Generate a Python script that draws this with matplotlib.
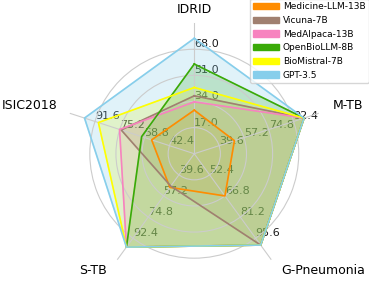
import numpy as np
import matplotlib
matplotlib.use("Agg")
import matplotlib.pyplot as plt
from matplotlib.patches import Patch

categories = ["IDRID", "M-TB", "G-Pneumonia", "S-TB", "ISIC2018"]
# per-axis scale (lo, hi)
ranges = [(0.0, 68.0), (22.0, 92.4), (38.0, 95.6), (22.0, 92.4), (26.0, 91.6)]

models = ["Medicine-LLM-13B", "Vicuna-7B", "MedAlpaca-13B",
          "OpenBioLLM-8B", "BioMistral-7B", "GPT-3.5"]
colors = ["#ff8c00", "#a08070", "#f783bf", "#3aaa08", "#ffff00", "#87ceeb"]

medicine_llm = [20.5, 42.3, 60.2, 41.9, 46.6]
vicuna = [30.0, 92.4, 94.2, 40.8, 67.0]
medalpaca = [26.0, 92.4, 94.2, 92.4, 68.1]
openbiollm = [51.0, 92.4, 94.2, 92.4, 53.3]
biomistral = [35.5, 92.4, 94.2, 92.4, 82.3]
gpt35 = [68.0, 92.4, 94.2, 92.4, 91.6]
scores = [medicine_llm, vicuna, medalpaca, openbiollm, biomistral, gpt35]

R0, SPAN = 0.12, 0.985   # radial offset of the data polygons


def scale(vals):
    return [R0 + SPAN * (v - lo) / (hi - lo) for v, (lo, hi) in zip(vals, ranges)]


n = len(categories)
angles = np.linspace(0, 2 * np.pi, n, endpoint=False)

fig = plt.figure(figsize=(3.69, 2.86), dpi=100)
ax = fig.add_axes([0.1715, 0.0045, 0.710, 0.916], polar=True)
ax.set_theta_zero_location("N")
ax.set_theta_direction(-1)

for i, (name, vals, c) in enumerate(zip(models, scores, colors)):
    r = scale(vals)
    r = r + r[:1]
    th = np.concatenate([angles, angles[:1]])
    ax.plot(th, r, color=c, lw=1.2, zorder=2)
    # first fills sit below the scale labels, the rest above them
    ax.fill(th, r, color=c, alpha=0.25, zorder=0.8 if i < 3 else 1.0)

# per-axis tick labels
for i, (lo, hi) in enumerate(ranges):
    ticks = np.linspace(lo, hi, 5)[1:]
    for k, v in enumerate(ticks):
        ax.text(angles[i], 0.25 * (k + 1), f"{v:.1f}", fontsize=8,
                ha="left", va="bottom", color="#1a1a1a", zorder=0.9)

# category labels
label_r = [1.35, 1.39, 1.42, 1.42, 1.38]
for a, lab, rr in zip(angles, categories, label_r):
    s = np.sin(a)
    ha = "left" if s > 0.1 else ("right" if s < -0.1 else "center")
    ax.text(a, rr, lab, fontsize=9, ha=ha, va="baseline", clip_on=False)

ax.set_xticks(angles)
ax.set_xticklabels([])
ax.set_yticks([0.25, 0.5, 0.75, 1.0])
ax.set_yticklabels([])
ax.set_ylim(0, 1.254)
ax.spines["polar"].set_visible(False)
ax.grid(color="#cccccc", lw=0.8)

handles = [Patch(color=c, label=m) for m, c in zip(models, colors)]
fig.legend(handles=handles, loc="upper right", bbox_to_anchor=(1.0, 1.005),
           borderaxespad=0, fontsize=6.5, labelspacing=0.52,
           handlelength=2.8, handletextpad=0.45)

fig.savefig("out.png", dpi=100)
